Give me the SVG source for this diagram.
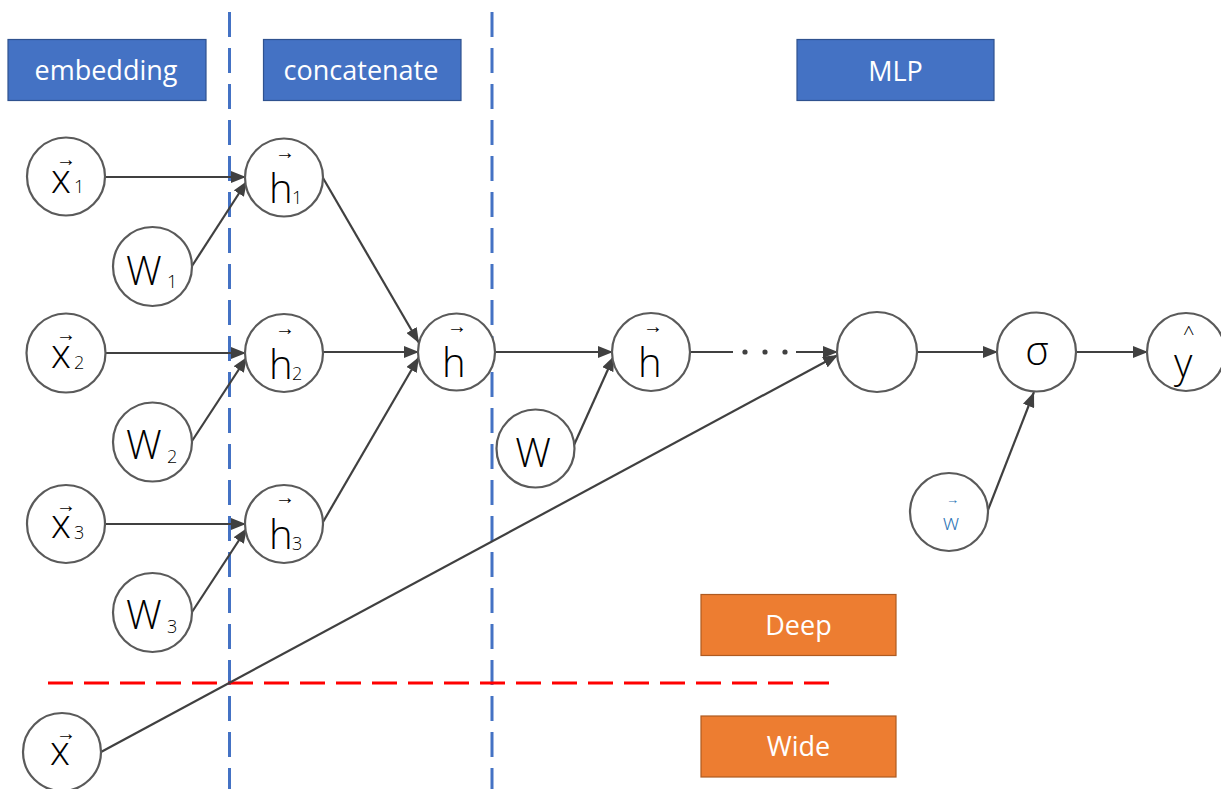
<svg xmlns="http://www.w3.org/2000/svg" width="1221" height="789" viewBox="0 0 1221 789">
  <defs>
    <marker id="arrow" markerUnits="userSpaceOnUse" markerWidth="16" markerHeight="12" refX="15" refY="6" orient="auto">
      <path d="M0,0 L15,6 L0,12 z" fill="#404040"/>
    </marker>
    <style>
      .node circle { fill: #ffffff; stroke: #5a5a5a; stroke-width: 2.2; }
      .lbl { font-family: "Open Sans", "Noto Sans", "Liberation Sans", sans-serif; font-weight: 300; fill: #000000; font-size: 40px; }
      .sub { font-size: 18px; }
      .vec { font-size: 20px; }
      .edge { stroke: #404040; stroke-width: 2.2; fill: none; }
      .edge.arr { marker-end: url(#arrow); }
      .divider { stroke: #4472C4; stroke-width: 3; stroke-dasharray: 25 11; }
      .split { stroke: #FF0000; stroke-width: 3; stroke-dasharray: 25 11; }
      .hdr rect { fill: #4472C4; stroke: #2F528F; stroke-width: 1.2; }
      .tag rect { fill: #ED7D31; stroke: #AE5A21; stroke-width: 1.2; }
      .hdr text, .tag text { font-family: "Open Sans", "Noto Sans", "Liberation Sans", sans-serif; font-size: 27px; fill: #ffffff; text-anchor: middle; }
    </style>
  </defs>

  <rect width="1221" height="789" fill="#ffffff"/>

  <!-- section dividers -->
  <g id="dividers">
    <line class="divider" x1="229.5" y1="12" x2="229.5" y2="789"/>
    <line class="divider" x1="492" y1="12" x2="492" y2="789"/>
    <line class="split" x1="48" y1="683" x2="830" y2="683"/>
  </g>

  <!-- section headers -->
  <g id="hdr-embedding" class="hdr">
    <rect x="8" y="39.5" width="198" height="61"/>
    <text x="106" y="80">embedding</text>
  </g>
  <g id="hdr-concatenate" class="hdr">
    <rect x="263.5" y="39.5" width="197.5" height="61"/>
    <text x="361" y="80">concatenate</text>
  </g>
  <g id="hdr-mlp" class="hdr">
    <rect x="797" y="39.5" width="197" height="61"/>
    <text x="895.5" y="81">MLP</text>
  </g>
  <g id="tag-deep" class="tag">
    <rect x="701" y="594.5" width="195" height="61"/>
    <text x="798.5" y="635">Deep</text>
  </g>
  <g id="tag-wide" class="tag">
    <rect x="701" y="716" width="195" height="61"/>
    <text x="798.5" y="756">Wide</text>
  </g>

  <!-- connectors -->
  <g id="edges">
    <line class="edge arr" x1="105" y1="177" x2="246" y2="177"/>
    <line class="edge arr" x1="106" y1="353" x2="246" y2="353"/>
    <line class="edge arr" x1="106" y1="524" x2="246" y2="524"/>
    <line class="edge arr" x1="192" y1="266" x2="247" y2="181"/>
    <line class="edge arr" x1="192" y1="441" x2="247" y2="357"/>
    <line class="edge arr" x1="192" y1="612" x2="247" y2="528"/>
    <line class="edge arr" x1="323" y1="178" x2="419" y2="343"/>
    <line class="edge arr" x1="323" y1="352" x2="419" y2="352"/>
    <line class="edge arr" x1="323" y1="522" x2="419" y2="357"/>
    <line class="edge arr" x1="495" y1="352" x2="613" y2="352"/>
    <line class="edge arr" x1="574" y1="445" x2="614" y2="356"/>
    <line class="edge" x1="690" y1="352" x2="733" y2="352"/>
    <circle cx="745" cy="352" r="2.6" fill="#404040"/>
    <circle cx="765" cy="352" r="2.6" fill="#404040"/>
    <circle cx="785" cy="352" r="2.6" fill="#404040"/>
    <line class="edge arr" x1="796" y1="352" x2="838" y2="352"/>
    <line class="edge arr" x1="101" y1="752" x2="838" y2="355"/>
    <line class="edge arr" x1="917" y1="352" x2="998" y2="352"/>
    <line class="edge arr" x1="988" y1="510" x2="1034" y2="392"/>
    <line class="edge arr" x1="1076" y1="352" x2="1148" y2="352"/>
  </g>

  <!-- embedding inputs -->
  <g id="x1" class="node">
    <circle cx="66" cy="176.5" r="39"/>
    <text class="lbl"><tspan class="vec" x="56" y="166">→</tspan><tspan x="51" y="193">x</tspan><tspan class="sub" x="74" y="193">1</tspan></text>
  </g>
  <g id="w1" class="node">
    <circle cx="152.5" cy="266.5" r="39.5"/>
    <text class="lbl"><tspan x="126" y="285">W</tspan><tspan class="sub" x="167" y="288">1</tspan></text>
  </g>
  <g id="x2" class="node">
    <circle cx="66" cy="353" r="39.5"/>
    <text class="lbl"><tspan class="vec" x="56" y="341">→</tspan><tspan x="51" y="368">x</tspan><tspan class="sub" x="74" y="369">2</tspan></text>
  </g>
  <g id="w2" class="node">
    <circle cx="152.5" cy="442" r="39.5"/>
    <text class="lbl"><tspan x="126" y="459">W</tspan><tspan class="sub" x="167" y="463">2</tspan></text>
  </g>
  <g id="x3" class="node">
    <circle cx="66" cy="524" r="39"/>
    <text class="lbl"><tspan class="vec" x="56" y="512">→</tspan><tspan x="51" y="538">x</tspan><tspan class="sub" x="74" y="539">3</tspan></text>
  </g>
  <g id="w3" class="node">
    <circle cx="152.5" cy="612.5" r="39.5"/>
    <text class="lbl"><tspan x="126" y="629">W</tspan><tspan class="sub" x="167" y="633">3</tspan></text>
  </g>

  <!-- concatenate layer -->
  <g id="h1" class="node">
    <circle cx="284" cy="177.5" r="39"/>
    <text class="lbl"><tspan class="vec" x="275" y="159">→</tspan><tspan x="269" y="203">h</tspan><tspan class="sub" x="292" y="204">1</tspan></text>
  </g>
  <g id="h2" class="node">
    <circle cx="284" cy="353" r="39"/>
    <text class="lbl"><tspan class="vec" x="275" y="335">→</tspan><tspan x="269" y="379">h</tspan><tspan class="sub" x="292" y="380">2</tspan></text>
  </g>
  <g id="h3" class="node">
    <circle cx="284" cy="524" r="39"/>
    <text class="lbl"><tspan class="vec" x="275" y="504">→</tspan><tspan x="269" y="549">h</tspan><tspan class="sub" x="292" y="550">3</tspan></text>
  </g>
  <g id="h" class="node">
    <circle cx="456.5" cy="352" r="38.5"/>
    <text class="lbl"><tspan class="vec" x="447" y="333">→</tspan><tspan x="442" y="377">h</tspan></text>
  </g>

  <!-- MLP -->
  <g id="w" class="node">
    <circle cx="535.5" cy="448.5" r="39"/>
    <text class="lbl" x="533" y="467" text-anchor="middle">W</text>
  </g>
  <g id="h-mlp" class="node">
    <circle cx="651" cy="352" r="39"/>
    <text class="lbl"><tspan class="vec" x="643" y="333">→</tspan><tspan x="638" y="377">h</tspan></text>
  </g>
  <g id="hidden" class="node">
    <circle cx="877" cy="352" r="40"/>
  </g>
  <g id="sigma" class="node">
    <circle cx="1036.5" cy="352" r="39.5"/>
    <text class="lbl" x="1037" y="365" text-anchor="middle">σ</text>
  </g>
  <g id="y-hat" class="node">
    <circle cx="1186" cy="352" r="39"/>
    <text class="lbl"><tspan x="1183" y="341" font-size="20">^</tspan><tspan x="1174" y="377">y</tspan></text>
  </g>
  <g id="w-wide" class="node">
    <circle cx="949" cy="512" r="39"/>
    <text class="lbl" style="fill:#2E75B6"><tspan x="946" y="504" font-size="13">→</tspan><tspan x="943" y="530" font-size="22">w</tspan></text>
  </g>

  <!-- wide input -->
  <g id="x-wide" class="node">
    <circle cx="62" cy="752" r="39"/>
    <text class="lbl"><tspan class="vec" x="56" y="740">→</tspan><tspan x="50" y="765">x</tspan></text>
  </g>
</svg>
